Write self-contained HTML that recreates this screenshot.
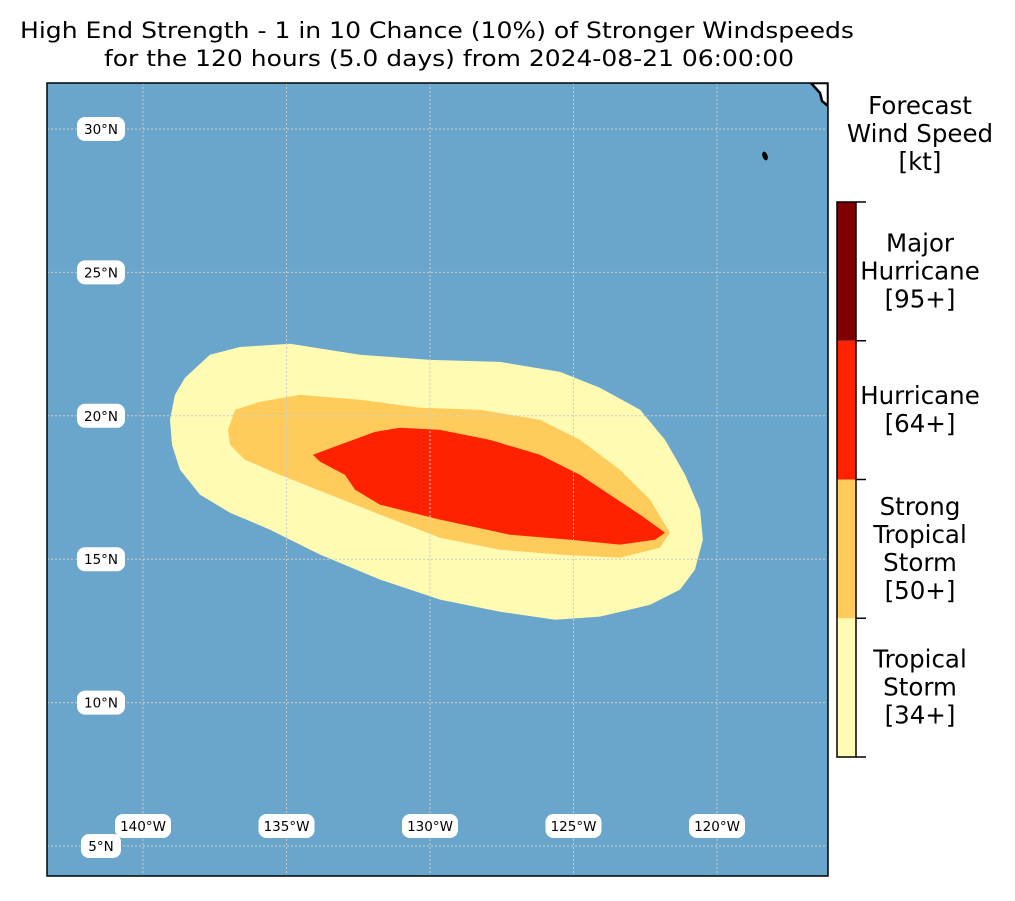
<!DOCTYPE html>
<html><head><meta charset="utf-8"><style>
body{margin:0;background:#fff;font-family:"Liberation Sans","DejaVu Sans",sans-serif;}
svg text{font-family:"DejaVu Sans","Liberation Sans",sans-serif;}
</style></head><body>
<svg id="chart" width="1015" height="896" viewBox="0 0 1015 896" xmlns="http://www.w3.org/2000/svg">
<text x="20" y="38" font-size="22" textLength="834" lengthAdjust="spacingAndGlyphs">High End Strength - 1 in 10 Chance (10%) of Stronger Windspeeds</text>
<text x="104" y="66" font-size="22" textLength="690" lengthAdjust="spacingAndGlyphs">for the 120 hours (5.0 days) from 2024-08-21 06:00:00</text>
<defs><clipPath id="mapclip"><rect x="47" y="83" width="781" height="793"/></clipPath></defs>
<g id="map" clip-path="url(#mapclip)">
<rect x="47" y="83" width="781" height="793" fill="#6aa6cb"/>
<g id="swaths"></g>
<g id="grid"></g>
<path d="M811,83 L820,93 L822,101 L828,106 L828,83 Z" fill="#fff" stroke="#000" stroke-width="2.5"/>
<ellipse cx="765" cy="156" rx="2.5" ry="4.5" fill="#000" transform="rotate(-20 765 156)"/>
<g id="labels"></g>
</g>
<rect x="47" y="83" width="781" height="793" fill="none" stroke="#000" stroke-width="1.5"/>
<g font-size="24.5" text-anchor="middle">
<text x="920" y="114">Forecast</text><text x="920" y="142">Wind Speed</text><text x="920" y="170">[kt]</text></g>
<g id="colorbar"></g>
</svg>
<script>
const lonTicks=[-140,-135,-130,-125,-120];
const latTicks=[5,10,15,20,25,30];
const tsLon=[-139.06,-138.89,-138.54,-137.67,-136.62,-134.88,-132.44,-130.00,-127.56,-125.47,-124.08,-122.68,-121.81,-121.11,-120.59,-120.49,-120.77,-121.29,-122.33,-124.08,-125.64,-127.56,-129.65,-131.74,-133.83,-135.57,-136.97,-138.01,-138.71,-138.99];
const tsLat=[19.86,20.73,21.32,22.13,22.40,22.51,22.13,21.95,21.88,21.53,20.98,20.21,19.16,17.94,16.72,15.68,14.63,13.94,13.41,13.00,12.89,13.17,13.59,14.29,15.16,16.03,16.62,17.25,18.12,18.99];
const stsLon=[-137.04,-136.79,-135.92,-134.53,-132.44,-130.35,-128.26,-126.17,-124.77,-123.38,-122.33,-121.64,-121.99,-123.38,-125.47,-127.56,-129.65,-131.74,-133.48,-135.23,-136.45,-136.97];
const stsLat=[19.51,20.21,20.49,20.73,20.56,20.28,20.21,19.86,19.16,18.12,17.07,15.92,15.40,15.05,15.16,15.33,15.75,16.55,17.25,17.94,18.47,18.99];
const huLon=[-134.08,-133.14,-131.92,-131.05,-129.65,-127.91,-126.17,-124.77,-123.73,-122.68,-121.81,-122.16,-123.38,-125.12,-127.21,-129.65,-131.74,-132.61,-132.96,-133.83];
const huLat=[18.64,18.99,19.44,19.58,19.51,19.16,18.64,17.94,17.25,16.55,15.92,15.68,15.51,15.68,15.85,16.38,16.90,17.42,17.94,18.40];
const cbLabels=[["Tropical","Storm","[34+]"],["Strong","Tropical","Storm","[50+]"],["Hurricane","[64+]"],["Major","Hurricane","[95+]"]];
const cbColors=["#fffbb3","#ffcc5c","#ff2200","#7f0000"];

const NS="http://www.w3.org/2000/svg";
const xS=lon=>143+(lon+140)*28.7;
const yS=lat=>129+(30-lat)*28.68;
function mk(tag,parent,attrs){const e=document.createElementNS(NS,tag);for(const k in attrs)e.setAttribute(k,attrs[k]);parent.appendChild(e);return e;}
const sw=document.getElementById('swaths');
[[tsLon,tsLat,cbColors[0],'tropical-storm-swath'],[stsLon,stsLat,cbColors[1],'strong-tropical-storm-swath'],[huLon,huLat,cbColors[2],'hurricane-swath']].forEach(([lo,la,c,n])=>{
  const p=mk('polygon',sw,{points:lo.map((v,i)=>xS(v).toFixed(1)+','+yS(la[i]).toFixed(1)).join(' '),fill:c});
  
  
});
const g=document.getElementById('grid');
lonTicks.forEach(l=>{const e=mk('line',g,{x1:xS(l),x2:xS(l),y1:83,y2:876,stroke:'#ccc','stroke-width':1,'stroke-dasharray':'2,2'});
  
  });
latTicks.forEach(l=>{const e=mk('line',g,{x1:47,x2:828,y1:yS(l),y2:yS(l),stroke:'#ccc','stroke-width':1,'stroke-dasharray':'2,2'});
  
  });
const lb=document.getElementById('labels');
function label(txt,cx,cy,n){
  const w=txt.length*8+16;
  const r=mk('rect',lb,{x:cx-w/2,y:cy-12,width:w,height:24,rx:8,fill:'#fff'});
  
  
  const t=mk('text',lb,{x:cx,y:cy+5,'font-size':13.5,'text-anchor':'middle',fill:'#000'});
  t.textContent=txt;
  
  
}
lonTicks.forEach(l=>label(Math.abs(l)+'°W',xS(l),826,'lon-tick-label'));
latTicks.forEach(l=>label(l+'°N',101,yS(l),'lat-tick-label'));
const cb=document.getElementById('colorbar');
const cbTop=202,cbBot=757,segH=(cbBot-cbTop)/cbColors.length;
cbColors.forEach((c,i)=>{
  const y0=cbBot-(i+1)*segH;
  const r=mk('rect',cb,{x:837,y:y0,width:19,height:segH,fill:c});
  
  
  const lines=cbLabels[i];const mid=y0+segH/2;
  lines.forEach((s,j)=>{const t=mk('text',cb,{x:920,y:mid+(j-(lines.length-1)/2)*28+8,'font-size':24.5,'text-anchor':'middle'});t.textContent=s;
    
    });
});
for(let i=0;i<=cbColors.length;i++){const y=cbBot-i*segH;const l=mk('line',cb,{x1:856,x2:866,y1:y,y2:y,stroke:'#000','stroke-width':1.5});
  
  }
const fr=mk('rect',cb,{x:837,y:cbTop,width:19,height:cbBot-cbTop,fill:'none',stroke:'#000','stroke-width':1.5});


</script>
</body></html>
